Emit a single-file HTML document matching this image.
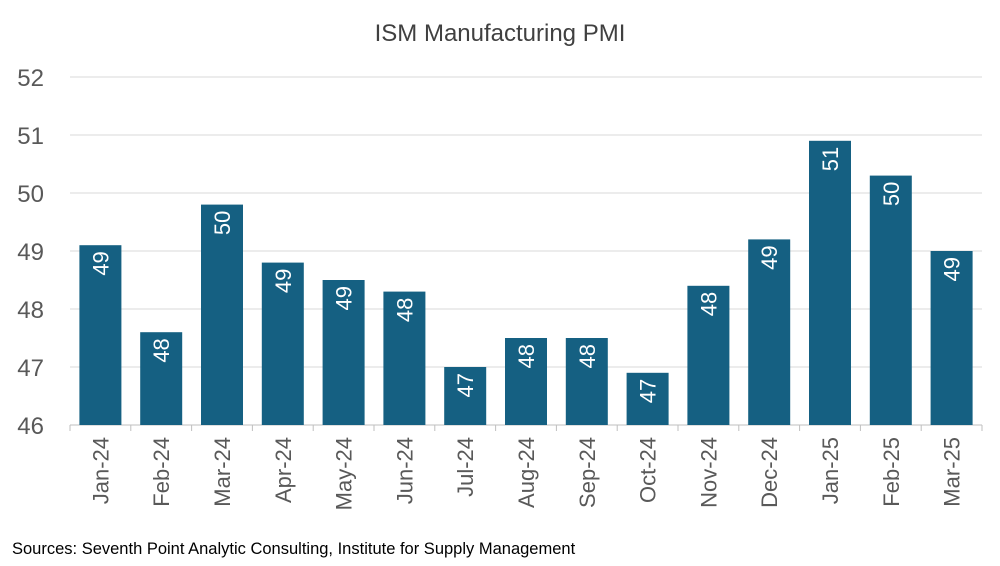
<!DOCTYPE html>
<html><head><meta charset="utf-8"><style>
body{margin:0;background:#fff;}
svg{display:block;font-family:"Liberation Sans",sans-serif;}
</style></head><body>
<svg id="chart" width="1000" height="566">
<rect width="1000" height="566" fill="#fff"/>
<text x="500" y="41" text-anchor="middle" font-size="24" fill="#404040">ISM Manufacturing PMI</text>
<g id="grid"></g><g id="bars"></g><g id="xlabels"></g>
<text x="12" y="554" font-size="16.5" fill="#000">Sources: Seventh Point Analytic Consulting, Institute for Supply Management</text>
</svg>
<script>
const categories=["Jan-24","Feb-24","Mar-24","Apr-24","May-24","Jun-24","Jul-24","Aug-24","Sep-24","Oct-24","Nov-24","Dec-24","Jan-25","Feb-25","Mar-25"];
const values=[49.1,47.6,49.8,48.8,48.5,48.3,47.0,47.5,47.5,46.9,48.4,49.2,50.9,50.3,49.0];
const yTicks=[46,47,48,49,50,51,52];
const NS="http://www.w3.org/2000/svg";
const x0=70,x1=982,yMin=46,yMax=52,py0=425,py1=77;
const band=(x1-x0)/categories.length,bw=42;
const y=v=>py0-(v-yMin)/(yMax-yMin)*(py0-py1);
const xc=i=>x0+band*(i+0.5);
function mk(t,a,p){const e=document.createElementNS(NS,t);for(const k in a)e.setAttribute(k,a[k]);p.appendChild(e);return e;}
const grid=document.getElementById('grid'),bars=document.getElementById('bars'),xl=document.getElementById('xlabels');
yTicks.forEach(t=>{
 const l=mk('line',{x1:x0,x2:x1,y1:y(t),y2:y(t),stroke:t===yMin?'#bfbfbf':'#d9d9d9','stroke-width':1},grid);
 
 
 const tx=mk('text',{x:44,y:y(t)+9,'text-anchor':'end','font-size':24,fill:'#595959'},grid);
 tx.textContent=t;
 
 
});
for(let i=0;i<=categories.length;i++){
 const tk=mk('line',{x1:x0+band*i,x2:x0+band*i,y1:py0,y2:py0+6,stroke:'#bfbfbf'},grid);
 
 
}
categories.forEach((c,i)=>{
 const v=values[i],cx=xc(i);
 const r=mk('rect',{x:cx-bw/2,y:y(v),width:bw,height:py0-y(v),fill:'#156082'},bars);
 
 
 const lb=mk('text',{x:0,y:0,'font-size':22,fill:'#fff','text-anchor':'end',transform:`translate(${cx+8},${y(v)+6}) rotate(-90)`},bars);
 lb.textContent=Math.round(v);
 
 
 const xt=mk('text',{x:0,y:0,'font-size':22,fill:'#595959','text-anchor':'end',transform:`translate(${cx+8},${py0+12}) rotate(-90)`},xl);
 xt.textContent=c;
 
 
});
</script>
</body></html>
